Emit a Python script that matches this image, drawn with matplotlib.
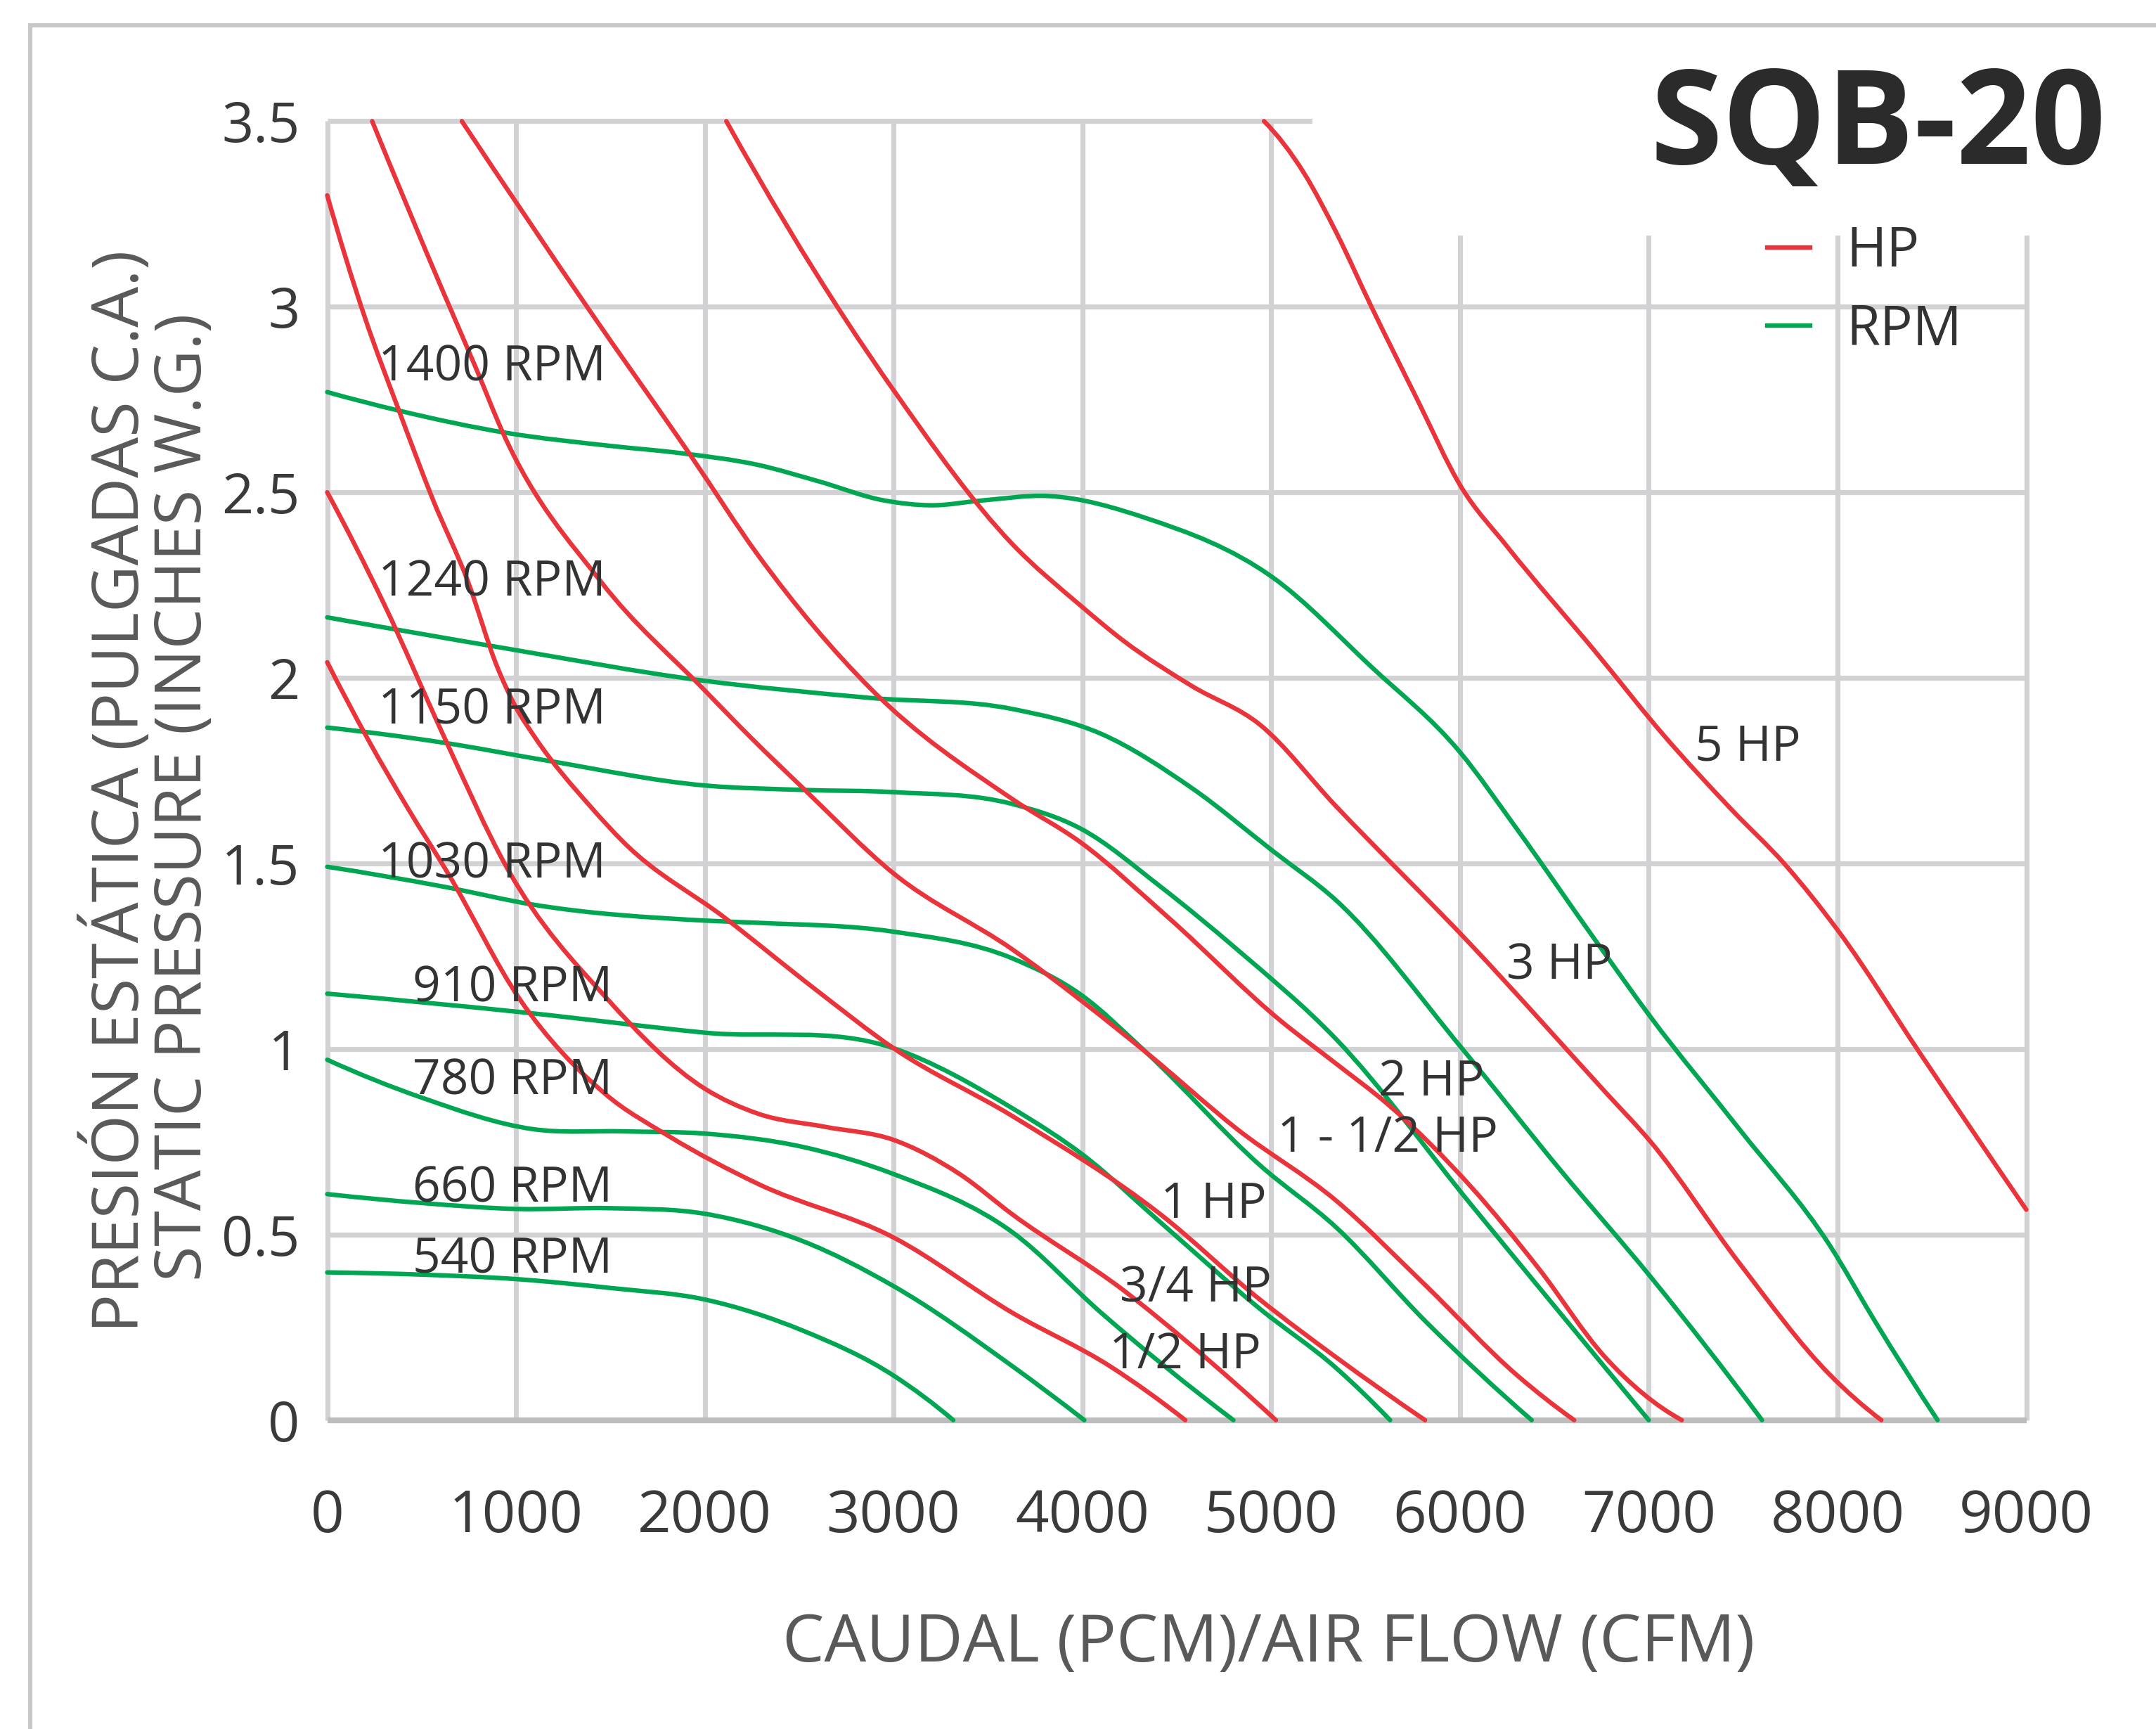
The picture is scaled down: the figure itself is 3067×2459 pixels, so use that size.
import matplotlib
matplotlib.use('Agg')
import matplotlib.pyplot as plt
from matplotlib.path import Path
from matplotlib.patches import PathPatch, Rectangle
from matplotlib.lines import Line2D
import numpy as np

# values
# air flow in CFM, static pressure in inches W.G.

# speed curves (green)
rpm_540_x = [0, 500, 1000, 1500, 2000, 2520, 3000, 3316]
rpm_540_y = [0.398, 0.392, 0.380, 0.356, 0.325, 0.241, 0.120, 0.0]

rpm_660_x = [0, 500, 1000, 1500, 2000, 2520, 3000, 3630, 4010]
rpm_660_y = [0.609, 0.585, 0.569, 0.571, 0.556, 0.482, 0.361, 0.145, 0.0]

rpm_780_x = [0, 500, 1090, 1570, 2000, 2520, 3000, 3630, 4100, 4800]
rpm_780_y = [0.971, 0.869, 0.784, 0.778, 0.772, 0.736, 0.663, 0.506, 0.289, 0.0]

rpm_910_x = [0, 1050, 2000, 3000, 3630, 4010, 4420, 4940, 5345, 5630]
rpm_910_y = [1.149, 1.098, 1.044, 1.002, 0.840, 0.712, 0.530, 0.300, 0.140, 0.0]

rpm_1030_x = [0, 620, 1090, 2000, 2280, 3000, 3630, 3990, 4340, 4940, 5345, 5820, 6380]
rpm_1030_y = [1.491, 1.437, 1.389, 1.346, 1.340, 1.316, 1.244, 1.147, 0.990, 0.687, 0.519, 0.265, 0.0]

rpm_1150_x = [0, 620, 1165, 2000, 2520, 3000, 3630, 3990, 4415, 4820, 5345, 6060, 6530, 7000]
rpm_1150_y = [1.866, 1.825, 1.777, 1.710, 1.698, 1.692, 1.660, 1.594, 1.437, 1.268, 1.026, 0.580, 0.289, 0.0]

rpm_1240_x = [0, 950, 1970, 2875, 3630, 4100, 4580, 5010, 5345, 6010, 6530, 7010, 7600]
rpm_1240_y = [2.163, 2.079, 1.994, 1.946, 1.916, 1.849, 1.703, 1.533, 1.400, 1.002, 0.675, 0.386, 0.0]

rpm_1400_x = [0, 380, 950, 1500, 1880, 2280, 2600, 2950, 3200, 3470, 3820, 4340, 5010, 5530,
              6000, 6300, 6720, 7010, 7480, 7960, 8200, 8530]
rpm_1400_y = [2.77, 2.72, 2.66, 2.625, 2.605, 2.574, 2.53, 2.478, 2.465, 2.478, 2.49, 2.43, 2.27, 2.03,
              1.80, 1.594, 1.291, 1.086, 0.784, 0.470, 0.265, 0.0]

# power curves (red)
hp_1_2_x = [0, 214, 430, 640, 1020, 1470, 1810, 2280, 3000, 3630, 4150, 4545]
hp_1_2_y = [2.042, 1.836, 1.646, 1.473, 1.134, 0.880, 0.765, 0.637, 0.492, 0.289, 0.144, 0.0]

hp_3_4_x = [0, 300, 620, 950, 1485, 2000, 2280, 2640, 3000, 3350, 3630, 4220, 4580, 5025]
hp_3_4_y = [2.50, 2.20, 1.84, 1.49, 1.134, 0.893, 0.826, 0.790, 0.755, 0.663, 0.554, 0.349, 0.200, 0.0]

hp_1_x = [0, 200, 380, 560, 745, 900, 1000, 1100, 1400, 1570, 2110, 2590, 3000, 3630, 4415, 4940, 5345, 5815]
hp_1_y = [3.30, 2.97, 2.72, 2.48, 2.26, 2.03, 1.92, 1.84, 1.65, 1.557, 1.352, 1.159, 1.002, 0.819, 0.554, 0.325,
          0.169, 0.0]

hp_1_1_2_x = [238, 620, 785, 930, 1450, 2000, 2250, 2520, 3000, 3630, 4340, 4820, 5345, 5820, 6300, 6605]
hp_1_1_2_y = [3.5, 3.033, 2.838, 2.661, 2.259, 1.966, 1.836, 1.703, 1.473, 1.268, 0.990, 0.784, 0.591, 0.362,
              0.122, 0.0]

hp_2_x = [713, 1380, 1925, 2280, 2880, 3630, 3990, 4460, 5055, 5345, 5620, 6060, 6415, 6770, 7175]
hp_2_y = [3.5, 2.997, 2.599, 2.332, 1.970, 1.673, 1.557, 1.352, 1.074, 0.960, 0.850, 0.628, 0.410, 0.169, 0.0]

hp_3_x = [2114, 2740, 3000, 3630, 3990, 4220, 4580, 4940, 5340, 6060, 6770, 7010, 7480, 7960, 8232]
hp_3_y = [3.5, 2.97, 2.775, 2.36, 2.195, 2.099, 1.978, 1.874, 1.656, 1.28, 0.884, 0.750, 0.423, 0.122, 0.0]

hp_5_x = [4962, 5174, 5345, 5531, 5769, 6007, 6245, 6723, 7080, 7437, 7722, 8007, 8435, 9000]
hp_5_y = [3.5, 3.36, 3.2, 3.0, 2.755, 2.514, 2.357, 2.067, 1.845, 1.646, 1.497, 1.316, 0.990, 0.567]

rpm_names = ['540 RPM', '660 RPM', '780 RPM', '910 RPM', '1030 RPM', '1150 RPM', '1240 RPM', '1400 RPM']
hp_names = ['1/2 HP', '3/4 HP', '1 HP', '1 - 1/2 HP', '2 HP', '3 HP', '5 HP']

x_ticks = [0, 1000, 2000, 3000, 4000, 5000, 6000, 7000, 8000, 9000]
y_ticks = [0, 0.5, 1, 1.5, 2, 2.5, 3, 3.5]
y_tick_labels = ['0', '0.5', '1', '1.5', '2', '2.5', '3', '3.5']

# where the curve names sit on the chart
rpm_label_pos = [(452, 0.431), (452, 0.621), (452, 0.911), (452, 1.162),
                 (270, 1.495), (270, 1.910), (270, 2.254), (270, 2.835)]
hp_label_pos = [(4142, 0.174), (4200, 0.353), (4415, 0.579), (5033, 0.758),
                (5568, 0.909), (6245, 1.223), (7246, 1.811)]

RED = '#E9343B'
GREEN = '#00A651'
GRID = '#d2d2d5'
TEXT = '#333333'

plt.rcParams['font.family'] = ['Open Sans', 'DejaVu Sans']


def end_slope(h0, h1, d0, d1):
    # one sided slope at the end of a curve
    m = ((2 * h0 + h1) * d0 - h0 * d1) / (h0 + h1)
    if np.sign(m) != np.sign(d0):
        return 0.0
    if np.sign(d0) != np.sign(d1) and abs(m) > abs(3 * d0):
        return 3 * d0
    return m


def smooth_path(xs, ys):
    """
    smooth bezier path through the read points, like a spreadsheet 'smoothed line'
    """
    x = np.asarray(xs, float)
    y = np.asarray(ys, float)
    h = np.diff(x)
    d = np.diff(y) / h
    n = len(x)
    m = np.zeros(n)
    # three point (parabola) slope at the inner points
    for i in range(1, n - 1):
        m[i] = (h[i] * d[i - 1] + h[i - 1] * d[i]) / (h[i - 1] + h[i])
    if n > 2:
        m[0] = end_slope(h[0], h[1], d[0], d[1])
        m[-1] = end_slope(h[-1], h[-2], d[-1], d[-2])
    else:
        m[:] = d[0]
    verts = [(x[0], y[0])]
    codes = [Path.MOVETO]
    for i in range(n - 1):
        verts += [(x[i] + h[i] / 3, y[i] + m[i] * h[i] / 3),
                  (x[i + 1] - h[i] / 3, y[i + 1] - m[i + 1] * h[i] / 3),
                  (x[i + 1], y[i + 1])]
        codes += [Path.CURVE4] * 3
    return Path(verts, codes)


W, H = 3067, 2459
fig = plt.figure(figsize=(W / 100, H / 100), dpi=100)
fig.patch.set_facecolor('white')

# outer frame of the picture (cut off at right and bottom)
fig.add_artist(Rectangle((43 / W, -0.05), 1.2, 1 - 36 / H + 0.05, transform=fig.transFigure,
                         fill=False, edgecolor='#c8c8c8', lw=4.3))

ax = fig.add_axes([465.5 / W, 1 - 2019.7 / H, 2417 / W, 1847.4 / H])
ax.set_facecolor('none')
for s in ax.spines.values():
    s.set_visible(False)

# grid
ax.hlines(y_ticks[1:], 0, 9000, color=GRID, lw=5.2, zorder=0.5, clip_on=False)
ax.vlines(x_ticks, 0, 3.5, color=GRID, lw=5.2, zorder=0.5, clip_on=False)
ax.hlines(0, 0, 9000, color='#bdbdbd', lw=6.0, zorder=1.2, clip_on=False)

# white block behind the model name
ax.add_patch(Rectangle((1867 / W, 1 - 335 / H), 0.5, 0.12, transform=fig.transFigure,
                       facecolor='white', edgecolor='none', zorder=1, clip_on=False))

rpm_curves = [(rpm_540_x, rpm_540_y), (rpm_660_x, rpm_660_y), (rpm_780_x, rpm_780_y),
              (rpm_910_x, rpm_910_y), (rpm_1030_x, rpm_1030_y), (rpm_1150_x, rpm_1150_y),
              (rpm_1240_x, rpm_1240_y), (rpm_1400_x, rpm_1400_y)]
hp_curves = [(hp_1_2_x, hp_1_2_y), (hp_3_4_x, hp_3_4_y), (hp_1_x, hp_1_y), (hp_1_1_2_x, hp_1_1_2_y),
             (hp_2_x, hp_2_y), (hp_3_x, hp_3_y), (hp_5_x, hp_5_y)]

for xs, ys in rpm_curves:
    ax.add_patch(PathPatch(smooth_path(xs, ys), fill=False, edgecolor=GREEN, lw=4.6,
                           capstyle='round', zorder=2, clip_on=False))
for xs, ys in hp_curves:
    ax.add_patch(PathPatch(smooth_path(xs, ys), fill=False, edgecolor=RED, lw=4.6,
                           capstyle='round', zorder=2.2, clip_on=False))

# curve names
for name, (lx, ly) in zip(rpm_names, rpm_label_pos):
    ax.text(lx, ly, name, fontsize=50, color=TEXT, ha='left', va='center', zorder=4)
for name, (lx, ly) in zip(hp_names, hp_label_pos):
    ax.text(lx, ly, name, fontsize=50, color=TEXT, ha='left', va='center', zorder=4)

ax.set_xlim(0, 9000)
ax.set_ylim(0, 3.5)
ax.set_xticks(x_ticks)
ax.set_yticks(y_ticks)
ax.set_yticklabels(y_tick_labels)
ax.tick_params(axis='x', length=0, pad=70, labelsize=60, labelcolor='#3a3a3a')
ax.tick_params(axis='y', length=0, pad=28, labelsize=57, labelcolor='#3a3a3a')

# axis titles
fig.text(1805 / W, 1 - 2338 / H, 'CAUDAL (PCM)/AIR FLOW (CFM)', fontsize=68, color='#595959',
         ha='center', va='center')
fig.text(168 / W, 1 - 1125 / H, 'PRESIÓN ESTÁTICA (PULGADAS C.A.)', fontsize=66, color='#595959',
         ha='center', va='center', rotation=90)
fig.text(262 / W, 1 - 1134 / H, 'STATIC PRESSURE (INCHES W.G.)', fontsize=66, color='#595959',
         ha='center', va='center', rotation=90)

# model name
fig.text(2672 / W, 1 - 233 / H, 'SQB-20', fontsize=134, fontweight='bold', color='#2b2b2b',
         ha='center', va='baseline')

# legend
handles = [Line2D([], [], color=RED, lw=4.6), Line2D([], [], color=GREEN, lw=4.6)]
leg = ax.legend(handles, ['HP', 'RPM'], loc='upper left', bbox_to_anchor=(2514 / W, 1 - 319 / H),
                bbox_transform=fig.transFigure, frameon=False, fontsize=56, handlelength=0.78,
                handletextpad=0.67, labelspacing=0.42, borderpad=0, borderaxespad=0)
for t in leg.get_texts():
    t.set_color(TEXT)

fig.savefig('out.png', dpi=100, facecolor='white')
